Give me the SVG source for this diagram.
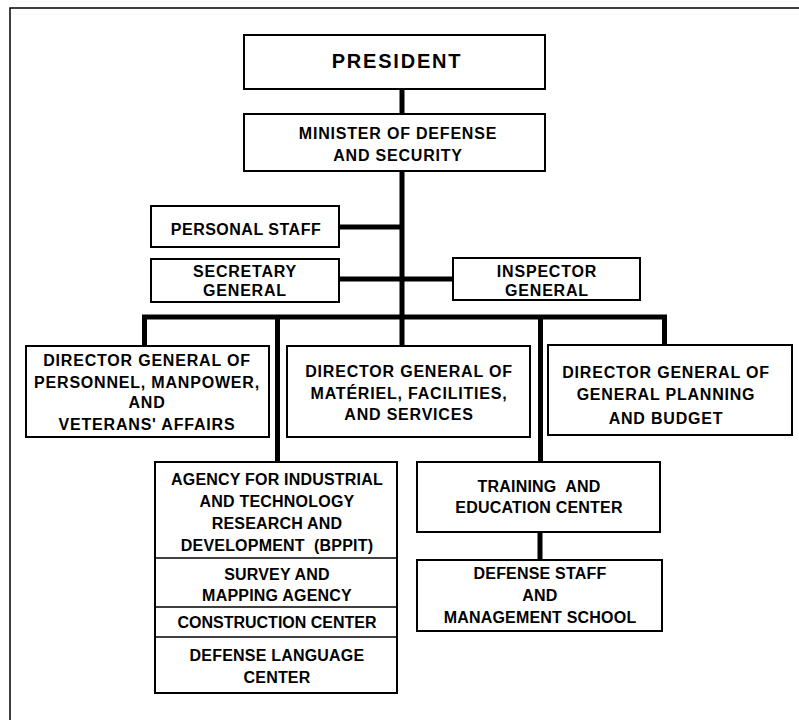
<svg xmlns="http://www.w3.org/2000/svg" width="799" height="720" viewBox="0 0 799 720">
<style>
.box{fill:#fff;stroke:#000;stroke-width:2}
.div{stroke:#000;stroke-width:1.5}
.c{fill:none;stroke:#000;stroke-width:5;stroke-linecap:butt}
text{font-family:"Liberation Sans",Arial,sans-serif;font-weight:bold;font-size:16px;text-anchor:middle;fill:#000}
.w{letter-spacing:0.8px}
.n{letter-spacing:0.2px}
</style>
<rect width="799" height="720" fill="#fff"/>
<path d="M10 720 V8 H799" fill="none" stroke="#000" stroke-width="1.5"/>
<g id="connectors">
<path class="c" d="M402 89 V114"/>
<path class="c" d="M402 171 V346"/>
<path class="c" d="M339 227 H402"/>
<path class="c" d="M339 279 H453"/>
<path class="c" d="M144.5 346 V317 H664.5 V345"/>
<path class="c" d="M277.5 317 V462"/>
<path class="c" d="M540.5 317 V462"/>
<path class="c" d="M540 532 V560"/>
</g>
<g id="president">
<rect class="box" x="244" y="35" width="301" height="54"/>
<text x="397" y="68" style="font-size:20px;letter-spacing:1.8px">PRESIDENT</text>
</g>
<g id="minister">
<rect class="box" x="244" y="114" width="301" height="57"/>
<text class="w" x="398" y="139">MINISTER OF DEFENSE</text>
<text class="w" x="398" y="161">AND SECURITY</text>
</g>
<g id="personal-staff">
<rect class="box" x="151" y="206" width="188" height="41"/>
<text x="246" y="235" style="letter-spacing:0.5px">PERSONAL STAFF</text>
</g>
<g id="secretary-general">
<rect class="box" x="151" y="259" width="188" height="43"/>
<text class="w" x="245" y="277">SECRETARY</text>
<text class="w" x="245" y="296">GENERAL</text>
</g>
<g id="inspector-general">
<rect class="box" x="453" y="258" width="187" height="42"/>
<text class="w" x="547" y="277">INSPECTOR</text>
<text class="w" x="547" y="296">GENERAL</text>
</g>
<g id="dg-personnel">
<rect class="box" x="26" y="346" width="243" height="91"/>
<text class="w" x="147" y="366">DIRECTOR GENERAL OF</text>
<text class="w" x="147" y="388">PERSONNEL, MANPOWER,</text>
<text class="w" x="147" y="408">AND</text>
<text class="w" x="147" y="430">VETERANS' AFFAIRS</text>
</g>
<g id="dg-materiel">
<rect class="box" x="287" y="346" width="243" height="91"/>
<text class="w" x="409" y="377">DIRECTOR GENERAL OF</text>
<text class="w" x="409" y="399">MATÉRIEL, FACILITIES,</text>
<text class="w" x="409" y="420">AND SERVICES</text>
</g>
<g id="dg-planning">
<rect class="box" x="548" y="345" width="244" height="90"/>
<text class="w" x="666" y="378">DIRECTOR GENERAL OF</text>
<text class="w" x="666" y="400">GENERAL PLANNING</text>
<text class="w" x="666" y="424">AND BUDGET</text>
</g>
<g id="agency-group">
<rect class="box" x="155" y="462" width="242" height="231"/>
<line class="div" x1="155" y1="558" x2="397" y2="558"/>
<line class="div" x1="155" y1="607" x2="397" y2="607"/>
<line class="div" x1="155" y1="637" x2="397" y2="637"/>
<g id="bppit">
<text class="n" x="277" y="485">AGENCY FOR INDUSTRIAL</text>
<text class="n" x="277" y="507">AND TECHNOLOGY</text>
<text class="n" x="277" y="529">RESEARCH AND</text>
<text class="n" x="277" y="551" xml:space="preserve">DEVELOPMENT  (BPPIT)</text>
</g>
<g id="survey">
<text class="n" x="277" y="580">SURVEY AND</text>
<text class="n" x="277" y="601">MAPPING AGENCY</text>
</g>
<g id="construction">
<text x="277" y="628">CONSTRUCTION CENTER</text>
</g>
<g id="language">
<text class="n" x="277" y="661">DEFENSE LANGUAGE</text>
<text class="n" x="277" y="683">CENTER</text>
</g>
</g>
<g id="training">
<rect class="box" x="417" y="462" width="243" height="70"/>
<text class="n" x="539" y="492" xml:space="preserve">TRAINING  AND</text>
<text class="n" x="539" y="513">EDUCATION CENTER</text>
</g>
<g id="defense-staff">
<rect class="box" x="417" y="560" width="245" height="71"/>
<text class="n" x="540" y="579">DEFENSE STAFF</text>
<text class="n" x="540" y="601">AND</text>
<text class="n" x="540" y="623">MANAGEMENT SCHOOL</text>
</g>
</svg>
